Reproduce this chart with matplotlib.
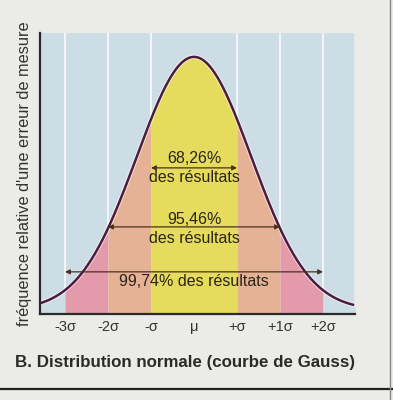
import numpy as np
import matplotlib.pyplot as plt
from matplotlib.lines import Line2D

plt.rcParams['font.family'] = ['Liberation Sans', 'DejaVu Sans']

# courbe de Gauss (unités : sigma des bandes)
mu = 0.0
sigma_curve = 1.33
peak = 0.915
base = 0.014

# bandes colorées sous la courbe
band_edges = [-3, -2, -1, 1, 2, 3]
band_colors = ['#e39aab', '#e6b296', '#e5db5c', '#e6b296', '#e39aab']

tick_pos = [-3, -2, -1, 0, 1, 2, 3]
tick_labels = ['-3σ', '-2σ', '-σ', 'μ', '+σ', '+1σ', '+2σ']

# flèches : (demi-largeur, hauteur de la flèche)
arrow_half = [1, 2, 3]
arrow_y = [0.52, 0.31, 0.15]
texts = [('68,26%', 0.555), ('des résultats', 0.484),
         ('95,46%', 0.335), ('des résultats', 0.267),
         ('99,74% des résultats', 0.114)]


def gauss(x):
    return base + (peak - base) * np.exp(-0.5 * ((x - mu) / sigma_curve) ** 2)


page = '#ebebe8'
blue = '#cddde6'
W, H = 393, 400

fig = plt.figure(figsize=(3.93, 4.0), dpi=100, facecolor=page)
ax = fig.add_axes([40 / W, 86 / H, 315 / W, 281 / H], facecolor=page)

xmin, xmax = (40 - 194) / 43, (355 - 194) / 43
ax.set_xlim(xmin, xmax)
ax.set_ylim(0, 1)

# fond bleu clair
ax.axvspan(xmin, (353 - 194) / 43, color=blue, zorder=0)
for e in band_edges:
    ax.axvline(e, color='white', lw=1.3, alpha=0.8, zorder=1)

# remplissage sous la courbe
segments = [xmin] + band_edges + [xmax]
colors = [blue] + band_colors + [blue]
for a, b, c in zip(segments[:-1], segments[1:], colors):
    xs = np.linspace(a, b, 120)
    ax.fill_between(xs, 0, gauss(xs), color=c, lw=0, zorder=2)

x = np.linspace(xmin, (353 - 194) / 43, 600)
ax.plot(x, gauss(x), color='white', lw=3.2, alpha=0.6, zorder=3)
ax.plot(x, gauss(x), color='#4b1c3c', lw=1.8, zorder=4)

for h, y in zip(arrow_half, arrow_y):
    ax.annotate('', xy=(mu - h, y), xytext=(mu + h, y),
                arrowprops=dict(arrowstyle='<|-|>', color='#4a3020', lw=0.9,
                                mutation_scale=7, shrinkA=0, shrinkB=0),
                zorder=5)

for t, y in texts:
    ax.text(mu, y, t, ha='center', va='center', fontsize=11.5,
            color='#2b2418', zorder=6)

ax.set_xticks(tick_pos)
ax.set_xticklabels(tick_labels, fontsize=10.5, color='#333333')
ax.tick_params(axis='x', length=0, pad=4)
ax.set_yticks([])
for s in ['top', 'right']:
    ax.spines[s].set_visible(False)
for s in ['left', 'bottom']:
    ax.spines[s].set_color('#2a2a2a')
    ax.spines[s].set_linewidth(1.6)
    ax.spines[s].set_zorder(7)

fig.text(25 / W, 1 - 174 / H, "fréquence relative d'une erreur de mesure",
         rotation=90, ha='center', va='center', fontsize=11.8, color='#333333')
fig.text(15 / W, 1 - 362 / H, 'B. Distribution normale (courbe de Gauss)',
         ha='left', va='center', fontsize=12.2, fontweight='bold', color='#2a2a2a')

fig.add_artist(Line2D([0, 1], [1 - 389 / H] * 2, color='#222222', lw=1.6))
fig.add_artist(Line2D([390 / W] * 2, [0, 1], color='#888888', lw=1.0))

fig.savefig('out.png', dpi=100, facecolor=page)
